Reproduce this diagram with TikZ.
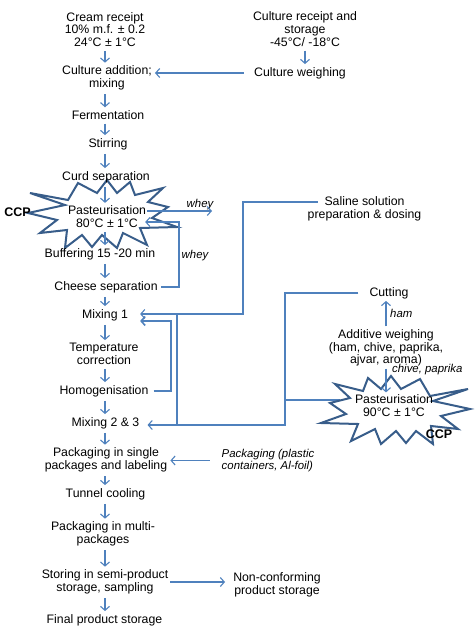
\documentclass[tikz,border=0pt]{standalone}
\usepackage{fontspec}
\setmainfont{Liberation Sans}
\usetikzlibrary{arrows.meta}
\definecolor{flowblue}{RGB}{79,129,189}
\definecolor{burstblue}{RGB}{56,93,138}

\tikzset{
  txt/.style={align=center,font=\fontsize{12.3}{12.8}\selectfont,inner sep=1pt},
  note/.style={align=left,font=\fontsize{11.4}{11.6}\selectfont\itshape,inner sep=0pt},
  ccp/.style={font=\fontsize{12.5}{13}\selectfont\bfseries,inner sep=0pt},
  burst/.style={draw=burstblue,line width=2pt,fill=white,line join=miter},
  flow/.style={draw=flowblue,line width=1.1pt},
  loop/.style={draw=flowblue,line width=1.6pt},
  ccpstar/.pic={
    \draw[burst] (-73,-21) -- (-38,-9) -- (-75,-1) -- (-46,6) -- (-63,19) -- (-36,16)
      -- (-38,34) -- (-21,21) -- (-11,33) -- (-1,21) -- (14,34) -- (20,19) -- (44,31)
      -- (37,14) -- (74,13) -- (49,4) -- (65,-7) -- (45,-12) -- (60,-26) -- (32,-19)
      -- (27,-32) -- (14,-21) -- (4,-34) -- (-6,-21) -- (-25,-31) -- (-35,-14) -- cycle;
  }
}

\begin{document}
\begin{tikzpicture}[x=1pt,y=-1pt,>={Straight Barb[length=4pt,width=9pt]}]
  \useasboundingbox (0,0) rectangle (474,637);

  % second pasteurisation feeds the cutting line, star covers the end
  \coordinate (s2w) at (340,400);
  \coordinate (cutbend) at (285,425);
  \draw[flow] (s2w) -- (s2w -| cutbend);

  % CCP stars
  \pic (s1) at (103,214) {ccpstar};
  \pic[xscale=-1] (s2) at (395,410) {ccpstar};

  % main line
  \node[txt] (cream) at (105,29.5) {Cream receipt\\10\% m.f. ± 0.2\\24°C ± 1°C};
  \node[txt] (addition) at (107,78) {Culture addition;\\mixing};
  \node[txt] (ferm) at (108,115) {Fermentation};
  \node[txt] (stir) at (108,144) {Stirring};
  \node[txt] (curd) at (106,177) {Curd separation};
  \node[txt] (past1) at (107,217) {Pasteurisation\\80°C ± 1°C};
  \node[txt] (buffer) at (100,254) {Buffering 15 -20 min};
  \node[txt] (cheese) at (106,287) {Cheese separation};
  \node[txt] (mix1) at (105,315) {Mixing 1};
  \node[txt] (temp) at (104,354) {Temperature\\correction};
  \node[txt] (homog) at (104,391) {Homogenisation};
  \node[txt] (mix23) at (105.5,423) {Mixing 2 \& 3};
  \node[txt] (pack1) at (106,460) {Packaging in single\\packages and labeling};
  \node[txt] (tunnel) at (105.5,494) {Tunnel cooling};
  \node[txt] (multi) at (103,534) {Packaging in multi-\\packages};
  \node[txt] (storing) at (105,582) {Storing in semi-product\\storage, sampling};
  \node[txt] (final) at (104.5,620) {Final product storage};

  % side inputs
  \node[txt] (cultrec) at (305,29) {Culture receipt and\\storage\\-45°C/ -18°C};
  \node[txt] (cultw) at (300,73) {Culture weighing};
  \node[txt] (saline) at (364.5,208.5) {Saline solution\\preparation \& dosing};
  \node[txt] (cut) at (389,293) {Cutting};
  \node[txt] (additive) at (386,348) {Additive weighing\\(ham, chive, paprika,\\ajvar, aroma)};
  \node[txt] (past2) at (394,405.5) {Pasteurisation\\90°C ± 1°C};
  \node[note] (packmat) at (268,460.5) {Packaging (plastic\\containers, Al-foil)};
  \node[txt] (noncon) at (277,584.5) {Non-conforming\\product storage};

  % labels
  \node[ccp] (ccp1) at (17.5,212) {CCP};
  \node[ccp] (ccp2) at (439,434) {CCP};
  \node[note] (whey1) at (200,205) {whey};
  \node[note] (whey2) at (195,256) {whey};
  \node[note,anchor=west] (ham) at (390,313) {ham};
  \node[note,anchor=west] (chive) at (392,370) {chive, paprika};

  % bends
  \coordinate (wheyend) at (212,211);
  \coordinate (wheybend) at (179,222);
  \coordinate (salbend) at (243,314);
  \coordinate (junc1) at (177,314);
  \coordinate (homobend) at (171,321);

  \foreach \a/\b in {cream/addition,addition/ferm,ferm/stir,stir/curd,curd/past1,
      past1/buffer,buffer/cheese,cheese/mix1,mix1/temp,temp/homog,homog/mix23,
      mix23/pack1,pack1/tunnel,tunnel/multi,multi/storing,storing/final}
    \draw[flow,->,shorten <=3pt,shorten >=2pt] (\a.south -| cream) -- (\b.north -| cream);

  \draw[flow,->,shorten <=3pt,shorten >=2pt] (cultrec.south) -- (cultrec.south |- cultw.north);
  \draw[flow,->,shorten <=9pt,shorten >=2pt] (cultw.west) -- (cultw.west -| addition.east);

  % whey out of the curd
  \draw[flow,->] (past1.east |- wheyend) -- (wheyend);
  \draw[flow,->,shorten <=2pt,shorten >=-2pt] (cheese.east) -| (wheybend) -- (wheybend -| past1.east);

  % salt, additives and the loops back
  \draw[flow,->,shorten >=11pt] ([xshift=11pt,yshift=6.5pt]saline.west) -| (salbend) -- (salbend -| mix1.east);
  \draw[loop] (junc1) -- (junc1 |- cutbend);
  \draw[loop,->,shorten <=4pt,shorten >=11pt] (homog.east) -| (homobend) -- (homobend -| mix1.east);
  \draw[flow,->,shorten >=7pt] ([xshift=-10pt]cut.west) -| (cutbend) -- (cutbend -| mix23.east);
  \draw[flow,->,shorten <=2pt,shorten >=1pt] (additive.north) -- (additive.north |- cut.south);
  \draw[flow,->,shorten <=1pt,shorten >=1pt] (additive.south) -- (additive.south |- past2.north);

  % packaging material and rejects
  \draw[flow,->,shorten <=12pt,shorten >=2pt] (packmat.west) -- (packmat.west -| pack1.east);
  \draw[flow,->,shorten <=1pt,shorten >=7pt] (storing.east) -- (storing.east -| noncon.west);
\end{tikzpicture}
\end{document}
